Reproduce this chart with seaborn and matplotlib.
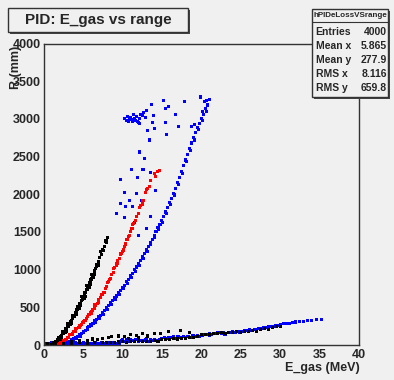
import pandas as pd
import matplotlib
matplotlib.use("Agg")
import matplotlib.pyplot as plt
from matplotlib.patches import Rectangle
from matplotlib.lines import Line2D
from matplotlib.ticker import MultipleLocator
import seaborn as sns

# ---- data (E_gas in MeV, R in mm) ----
# black: steep curve
black_curve_x = [1.0, 1.1, 1.2, 1.3, 1.4, 1.5, 1.6, 1.7, 1.8, 1.9, 2.0, 2.1, 2.2, 2.3, 2.4, 2.5, 2.6, 2.7,
                 2.8, 2.9, 3.0, 3.1, 3.2, 3.3, 3.4, 3.5, 3.6, 3.7, 3.8, 3.9, 4.0, 4.1, 4.2, 4.3, 4.4, 4.5,
                 4.6, 4.7, 4.8, 4.9, 5.0, 5.1, 5.2, 5.3, 5.4, 5.5, 5.6, 5.7, 5.8, 5.9, 6.0, 6.1, 6.2, 6.3,
                 6.4, 6.5, 6.6, 6.7, 6.8, 6.9, 7.0, 7.1, 7.3, 7.5, 7.7, 7.9, 8.1,
                 1.25, 1.55, 1.85, 2.15, 2.45, 2.75, 3.05, 3.35, 3.65, 3.95, 4.25, 4.55, 4.85, 5.15,
                 5.45, 5.75, 6.05, 6.35, 6.65, 6.95, 7.25, 7.6, 8.0,
                 2.3, 2.9, 3.5, 4.1, 4.7, 5.3, 5.9, 6.5, 7.0]
black_curve_y = [5, 12, 8, 30, 28, 45, 50, 70, 65, 90, 85, 110, 115, 125, 150, 155, 180, 185,
                 215, 220, 245, 250, 280, 285, 315, 320, 350, 355, 390, 395, 425, 430, 465, 470, 505, 510,
                 550, 555, 595, 600, 640, 645, 690, 695, 735, 735, 780, 790, 830, 835, 870, 880, 920, 930,
                 970, 985, 1020, 1040, 1070, 1100, 1110, 1160, 1200, 1270, 1310, 1380, 1430,
                 35, 20, 95, 80, 175, 165, 280, 270, 385, 380, 510, 490, 640, 620,
                 790, 760, 930, 900, 1070, 1050, 1240, 1250, 1360,
                 100, 185, 290, 400, 530, 640, 800, 940, 1060]
# black: low band and scattered points
black_band_x = [8.0, 8.5, 9.0, 9.5, 10.0, 10.5, 11.0, 11.5, 12.0, 12.5, 13.0, 13.5, 14.0, 14.5, 15.0,
                15.5, 16.0, 16.5, 17.0, 17.5, 18.0, 18.5, 19.0, 19.5, 20.0, 20.5, 21.0, 21.5, 22.0,
                22.5, 23.0, 23.5, 24.0, 24.5, 25.0, 25.5, 26.0, 26.5, 27.0, 27.5, 28.0, 28.5, 29.0,
                29.5, 30.0,
                3.5, 4.5, 5.5, 6.2, 6.8, 7.5, 8.2, 8.6, 9.5, 10.2, 11.0, 11.8, 12.5, 13.2, 14.1,
                14.8, 15.8, 17.3, 18.5, 12.0, 10.8,
                0.5, 1.5, 2.5, 3.5, 4.5, 5.5, 6.5, 7.5]
black_band_y = [30, 35, 28, 40, 45, 38, 50, 42, 55, 48, 52, 45, 58, 50, 70,
                78, 72, 85, 80, 88, 92, 98, 100, 108, 140, 135, 145, 150, 148,
                160, 155, 165, 168, 175, 165, 180, 178, 190, 185, 200, 215, 210, 235,
                240, 250,
                40, 55, 60, 80, 70, 90, 105, 111, 120, 110, 135, 125, 150, 120, 156,
                155, 178, 192, 160, 95, 85,
                15, 20, 25, 20, 30, 25, 35, 30]

# red curve
red_x = [1.8, 2.0, 2.2, 2.4, 2.6, 2.8, 3.0, 3.2, 3.4, 3.6, 3.8, 4.0, 4.2, 4.4, 4.6, 4.8, 5.0, 5.2,
         5.4, 5.6, 5.8, 6.0, 6.2, 6.4, 6.6, 6.8, 7.0, 7.2, 7.4, 7.6, 7.8, 8.0, 8.2, 8.4, 8.6, 8.8,
         9.0, 9.2, 9.4, 9.6, 9.8, 10.0, 10.2, 10.4, 10.6, 10.8, 11.0, 11.2, 11.4, 11.6, 11.8, 12.0,
         12.3, 12.6, 12.9, 13.2, 13.6, 14.0, 14.4, 14.7,
         2.1, 2.5, 2.9, 3.3, 3.7, 4.1, 4.5, 4.9, 5.3, 5.7, 6.1, 6.5, 6.9, 7.3, 7.7, 8.1, 8.5, 8.9,
         9.3, 9.7, 10.1, 10.5, 10.9, 11.3, 11.7, 12.1, 12.5, 13.0, 13.4, 14.2]
red_y = [5, 20, 30, 45, 60, 70, 95, 105, 135, 145, 175, 185, 215, 230, 260, 270, 305, 320,
         355, 375, 410, 425, 465, 490, 530, 550, 600, 625, 675, 700, 755, 780, 840, 870, 930, 960,
         1030, 1060, 1120, 1150, 1210, 1240, 1310, 1340, 1400, 1440, 1510, 1540, 1610, 1650, 1710, 1750,
         1850, 1920, 2020, 2080, 2180, 2270, 2300, 2320,
         10, 65, 75, 135, 150, 215, 235, 300, 325, 410, 440, 530, 560, 665, 700, 830, 880, 1010,
         1080, 1200, 1260, 1400, 1450, 1600, 1650, 1820, 1870, 2060, 2100, 2240]

# blue: steep curve
blue_curve_x = [2.0, 2.25, 2.5, 2.75, 3.0, 3.25, 3.5, 3.75, 4.0, 4.25, 4.5, 4.75, 5.0, 5.25, 5.5, 5.75,
                6.0, 6.25, 6.5, 6.75, 7.0, 7.25, 7.5, 7.75, 8.0, 8.25, 8.5, 8.75, 9.0, 9.25, 9.5, 9.75,
                10.0, 10.25, 10.5, 10.75, 11.0, 11.25, 11.5, 11.75, 12.0, 12.25, 12.5, 12.75, 13.0,
                13.25, 13.5, 13.75, 14.0, 14.25, 14.5, 14.75, 15.0, 15.25, 15.5, 15.75, 16.0, 16.25,
                16.5, 16.75, 17.0, 17.25, 17.5, 17.75, 18.0, 18.25, 18.5, 18.75, 19.0, 19.25, 19.5,
                19.75, 20.0, 20.25, 20.5, 20.75, 21.0,
                2.1, 2.6, 3.1, 3.6, 4.1, 4.6, 5.1, 5.6, 6.1, 6.6, 7.1, 7.6, 8.1, 8.6, 9.1, 9.6, 10.1,
                10.6, 11.1, 11.6, 12.1, 12.6, 13.1, 13.6, 14.1, 14.6, 15.1, 15.6, 16.1, 16.6, 17.1,
                17.6, 18.1, 18.6, 19.1, 19.6, 20.1, 20.6]
blue_curve_y = [8, 10, 25, 25, 45, 50, 75, 80, 105, 115, 140, 150, 180, 195, 225, 240,
                275, 290, 325, 340, 375, 395, 435, 455, 495, 520, 560, 585, 625, 650, 695, 720,
                765, 795, 840, 870, 915, 950, 1000, 1035, 1085, 1125, 1175, 1210, 1265,
                1305, 1360, 1400, 1455, 1500, 1555, 1600, 1655, 1700, 1765, 1820, 1885, 1940,
                2015, 2080, 2155, 2220, 2305, 2380, 2455, 2530, 2605, 2680, 2755, 2820, 2885,
                2940, 3005, 3060, 3135, 3190, 3255,
                0, 15, 30, 60, 85, 120, 160, 205, 255, 300, 355, 410, 475, 540, 600, 670, 745,
                815, 890, 975, 1060, 1150, 1240, 1330, 1430, 1530, 1630, 1740, 1860, 1990, 2130,
                2280, 2430, 2580, 2720, 2860, 2980, 3100]
# blue: scattered points above the curve and the cluster near 3000 mm
blue_halo_x = [9.2, 9.7, 9.7, 10.2, 10.3, 10.4, 10.9, 11.1, 11.3, 11.8, 11.9, 12.1, 12.4, 12.6, 12.8,
               13.5, 13.4, 13.6, 14.2, 12.0, 11.5, 13.0,
               10.3, 10.5, 10.6, 10.8, 10.9, 11.0, 11.2, 11.3, 11.5, 11.6, 11.8, 11.9, 12.1, 12.3,
               12.5, 12.7, 12.9, 13.0, 11.4, 12.0, 12.2,
               13.7, 13.9, 13.8, 15.2, 15.5, 15.8, 15.4, 15.6, 16.7, 17.1, 17.9, 18.8, 19.1, 19.9,
               20.4, 20.6, 20.2, 20.8, 14.0, 13.2]
blue_halo_y = [1750, 1880, 2190, 1690, 2020, 1840, 1920, 2330, 1840, 2010, 2220, 2560, 1920, 2330, 2470,
               1710, 2720, 2290, 2050, 1450, 1620, 1550,
               3010, 2980, 3030, 2970, 3000, 3020, 2990, 2960, 3010, 2980, 3030, 2970, 3000, 3060,
               3040, 3080, 3020, 3110, 3060, 2950, 2940,
               3190, 3040, 2950, 3245, 3140, 3160, 2955, 2790, 3060, 2900, 3235, 2900, 2920, 3290,
               3230, 3240, 3100, 3180, 2870, 2850]
# blue: low band
blue_band_x = [0.1, 0.4, 0.7, 1.0, 1.3, 1.6, 1.9, 2.2, 2.5, 2.8, 3.1, 3.4, 3.7, 4.0, 4.3, 4.6,
               4.9, 5.2, 5.5, 5.8, 6.1, 6.4, 6.7, 7.0, 7.3, 7.6, 7.9, 8.2, 8.5, 8.8, 9.1, 9.4,
               0.25, 0.55, 0.85, 1.15, 1.45, 1.75, 2.05, 2.35, 2.65, 2.95, 3.25, 3.55, 3.85, 4.15,
               4.45, 4.75, 5.05, 5.35, 5.65, 5.95, 6.25, 6.55, 6.85, 7.15, 7.45, 7.75, 8.05, 8.35,
               8.65, 8.95, 9.25, 9.55,
               9.6, 9.9, 10.2, 10.5, 10.8, 11.1, 11.4, 11.7, 12.0, 12.3, 12.6, 12.9, 13.2, 13.5,
               13.8, 14.1, 14.4, 14.7,
               15.0, 15.3, 15.6, 15.9, 16.2, 16.5, 16.8, 17.1, 17.4, 17.7, 18.0, 18.3, 18.6, 18.9,
               19.2, 19.5, 19.8,
               20.1, 20.4, 20.7, 21.0, 21.3, 21.6, 21.9, 22.2, 22.5, 22.8, 23.1, 23.4, 23.7, 24.0,
               24.3, 24.6, 24.9,
               25.2, 25.5, 25.8, 26.1, 26.4, 26.7, 27.0, 27.3, 27.6, 27.9, 28.2, 28.5, 28.8, 29.1,
               29.4, 29.7, 30.0, 30.4, 30.8, 31.2, 31.6, 32.0, 32.5, 33.0, 33.5, 34.0, 34.6, 35.2,
               10.0, 11.0, 12.0, 13.0, 14.0, 16.0, 17.0, 18.0, 19.0, 21.0, 22.0, 23.0, 24.0]
blue_band_y = [12, 22, 8, 28, 15, 5, 25, 18, 10, 30, 14, 20, 6, 26, 16, 24,
               10, 18, 28, 12, 20, 8, 24, 16, 30, 12, 22, 18, 10, 26, 14, 20,
               5, 18, 25, 12, 20, 30, 8, 15, 22, 28, 10, 18, 25, 5,
               20, 14, 28, 10, 22, 16, 8, 26, 12, 20, 18, 24, 6, 28,
               14, 22, 16, 10,
               45, 60, 52, 70, 48, 62, 55, 72, 50, 65, 58, 75, 52, 68,
               60, 70, 55, 72,
               85, 100, 90, 105, 95, 110, 92, 108, 100, 115, 98, 112, 105, 120,
               110, 125, 118,
               130, 145, 138, 150, 142, 158, 148, 160, 152, 165, 158, 170, 162, 175,
               168, 180, 172,
               182, 195, 188, 200, 195, 210, 200, 215, 222, 230, 228, 240, 245, 250,
               258, 262, 275, 280, 285, 290, 300, 305, 310, 315, 330, 325, 340, 335,
               72, 78, 62, 80, 75, 88, 118, 95, 128, 132, 160, 145, 185]

stats_names = ["Entries", "Mean x", "Mean y", "RMS x", "RMS y"]
stats_values = ["4000", "5.865", "277.9", "8.116", "659.8"]

# ---- build one table, draw order blue -> red -> black ----
blue_x = blue_band_x + blue_curve_x + blue_halo_x
blue_y = blue_band_y + blue_curve_y + blue_halo_y
black_x = black_band_x + black_curve_x
black_y = black_band_y + black_curve_y
df = pd.DataFrame({
    "E_gas": blue_x + red_x + black_x,
    "R": blue_y + red_y + black_y,
    "group": ["blue"] * len(blue_x) + ["red"] * len(red_x) + ["black"] * len(black_x),
})

sns.set_theme(style="white")
plt.rcParams["font.family"] = ["Liberation Sans", "DejaVu Sans"]
plt.rcParams["font.weight"] = "bold"

bg = "#f0f0f0"
W, H = 394, 380
fig = plt.figure(figsize=(W / 100, H / 100), dpi=100, facecolor=bg)
ax = fig.add_axes([43.7 / W, 1 - 345 / H, (359 - 43.7) / W, (345 - 43.5) / H])
ax.set_facecolor(bg)

sns.scatterplot(data=df, x="E_gas", y="R", hue="group",
                palette={"blue": "#0000ff", "red": "#ff0000", "black": "#000000"},
                marker="s", s=5, linewidth=0, legend=False, ax=ax)

ax.set_xlim(0, 40)
ax.set_ylim(0, 4000)
ax.xaxis.set_major_locator(MultipleLocator(5))
ax.xaxis.set_minor_locator(MultipleLocator(1))
ax.yaxis.set_major_locator(MultipleLocator(500))
ax.yaxis.set_minor_locator(MultipleLocator(100))
ax.tick_params(which="both", direction="in", top=False, right=False, color="#333333",
               labelsize=9, width=0.8)
ax.tick_params(axis="x", which="major", length=8, pad=3)
ax.tick_params(axis="y", which="major", length=9, pad=2)
ax.tick_params(which="minor", length=4)
for lab in ax.get_xticklabels() + ax.get_yticklabels():
    lab.set_fontweight("bold")
for sp in ax.spines.values():
    sp.set_color("#333333")
    sp.set_linewidth(1)
ax.set_xlabel("")
ax.set_ylabel("")

fig.text(360 / W, 1 - 368 / H, "E_gas (MeV)", ha="right", va="center", fontsize=9, fontweight="bold")
fig.text(16 / W, 1 - 46 / H, "R (mm)", rotation=90, ha="center", va="top", fontsize=9,
         fontweight="bold")


def px_box(x0, y0, x1, y1, **kw):
    return Rectangle((x0 / W, 1 - y1 / H), (x1 - x0) / W, (y1 - y0) / H,
                     transform=fig.transFigure, **kw)


# title box with shadow
fig.add_artist(px_box(10, 10, 190, 33.5, facecolor="#444444", edgecolor="none"))
fig.add_artist(px_box(8, 8, 188, 31.5, facecolor=bg, edgecolor="#333333", lw=1))
fig.text(98 / W, 1 - 20 / H, "PID: E_gas vs range", ha="center", va="center",
         fontsize=11, fontweight="bold")

# stats box with shadow
fig.add_artist(px_box(313.5, 11, 390, 98.5, facecolor="#444444", edgecolor="none"))
fig.add_artist(px_box(311.7, 9.3, 388.3, 96.7, facecolor=bg, edgecolor="#333333", lw=1))
fig.add_artist(Line2D([311.7 / W, 388.3 / W], [1 - 21.7 / H, 1 - 21.7 / H],
                      transform=fig.transFigure, color="#333333", lw=0.8))
fig.text(350 / W, 1 - 15.3 / H, "hPIDeLossVSrange", ha="center", va="center", fontsize=5.8,
         fontweight="bold")
for i, (name, val) in enumerate(zip(stats_names, stats_values)):
    yy = 1 - (32.3 + i * 14) / H
    fig.text(315.7 / W, yy, name, ha="left", va="center", fontsize=7.5, fontweight="bold")
    fig.text(386.7 / W, yy, val, ha="right", va="center", fontsize=7.5, fontweight="bold")

fig.savefig("out.png", dpi=100, facecolor=bg)
